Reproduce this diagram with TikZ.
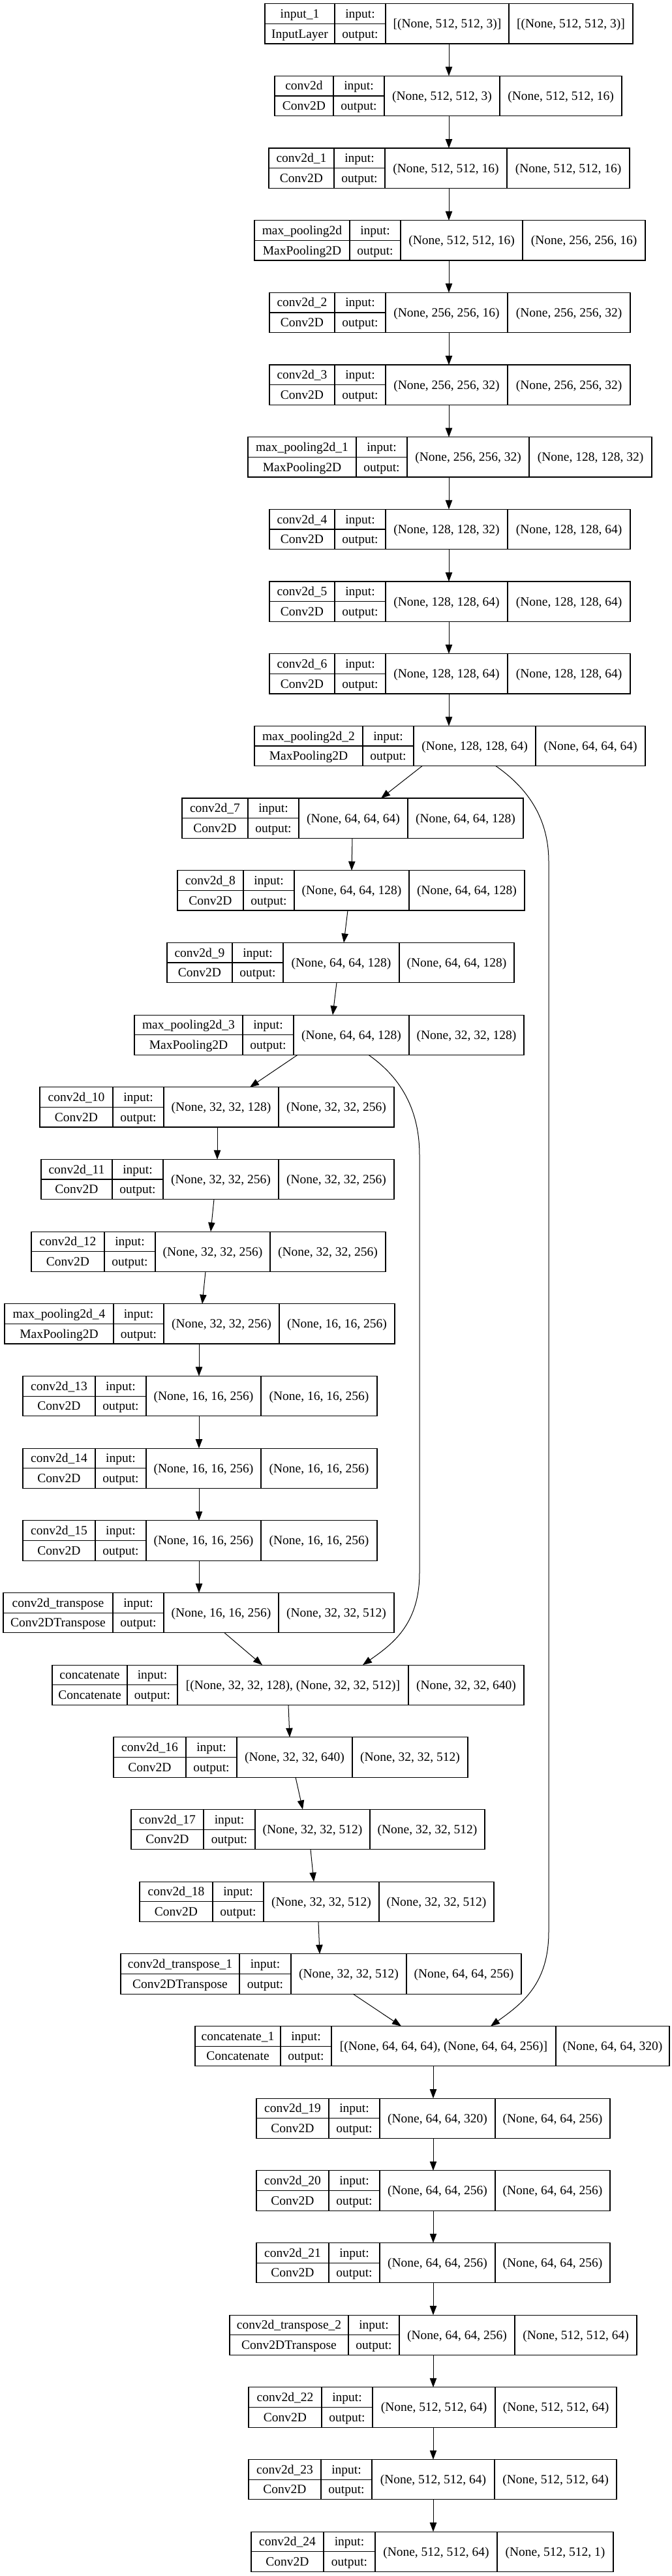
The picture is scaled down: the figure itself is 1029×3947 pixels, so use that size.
\documentclass[tikz,border=0pt]{standalone}
\usepackage{fontspec}
\setmainfont{Liberation Serif}
\usetikzlibrary{arrows.meta,fit}
\tikzset{
  boxn/.style={draw=black, line width=0.6pt, inner sep=0pt, outer sep=0pt},
  cellline/.style={draw=black, line width=0.6pt},
  txt/.style={anchor=base, inner sep=0pt, font=\fontsize{9.75pt}{11pt}\selectfont},
  arr/.style={draw=black, line width=0.5pt, -{Triangle[length=7pt,width=5.2pt]}},
}
\def\lyrxy#1/#2/#3/#4/#5\relax{\def\lyL{#1}\def\lyA{#2}\def\lyB{#3}\def\lyC{#4}\def\lyR{#5}}
\newcommand\lyr[7]{%
  \lyrxy#3\relax
  \pgfmathsetmacro\lyT{5.7+110.67*#2}%
  \pgfmathsetmacro\lyBt{\lyT+61.3}%
  \pgfmathsetmacro\lyM{\lyT+30.65}%
  \pgfmathsetmacro\lyU{\lyT+21.6}%
  \pgfmathsetmacro\lyD{\lyT+52.3}%
  \pgfmathsetmacro\lyCc{\lyT+37.1}%
  \node[boxn, fit={(\lyL,\lyT) (\lyR,\lyBt)}] (#1) {};
  \draw[cellline] (\lyA,\lyT) -- (\lyA,\lyBt) (\lyB,\lyT) -- (\lyB,\lyBt) (\lyC,\lyT) -- (\lyC,\lyBt) (\lyL,\lyM) -- (\lyB,\lyM);
  \node[txt] (#1-n) at ({(\lyL+\lyA)/2},\lyU) {#4};
  \node[txt] (#1-t) at ({(\lyL+\lyA)/2},\lyD) {#5};
  \node[txt] (#1-i) at ({(\lyA+\lyB)/2},\lyU) {input:};
  \node[txt] (#1-o) at ({(\lyA+\lyB)/2},\lyD) {output:};
  \node[txt] (#1-s) at ({(\lyB+\lyC)/2},\lyCc) {#6};
  \node[txt] (#1-r) at ({(\lyC+\lyR)/2},\lyCc) {#7};
}
\newcommand\edg[4]{\draw[arr] (#1.south-|#3,0) -- (#2.north-|#4,0);}
\begin{document}
\begin{tikzpicture}[x=0.5pt,y=-0.5pt]
\fill[white] (0,0) rectangle (1029,3947);
\useasboundingbox (0,0) rectangle (1029,3947);
\lyr{n0}{0}{406/513/591/780/970}{input\_1}{InputLayer}{[(None, 512, 512, 3)]}{[(None, 512, 512, 3)]}
\lyr{n1}{1}{421/511/589/766/953}{conv2d}{Conv2D}{(None, 512, 512, 3)}{(None, 512, 512, 16)}
\lyr{n2}{2}{412/512/590/777/965}{conv2d\_1}{Conv2D}{(None, 512, 512, 16)}{(None, 512, 512, 16)}
\lyr{n3}{3}{390/536/614/801/989}{max\_pooling2d}{MaxPooling2D}{(None, 512, 512, 16)}{(None, 256, 256, 16)}
\lyr{n4}{4}{413/513/591/778/966}{conv2d\_2}{Conv2D}{(None, 256, 256, 16)}{(None, 256, 256, 32)}
\lyr{n5}{5}{413/513/591/778/966}{conv2d\_3}{Conv2D}{(None, 256, 256, 32)}{(None, 256, 256, 32)}
\lyr{n6}{6}{380/546/624/811/999}{max\_pooling2d\_1}{MaxPooling2D}{(None, 256, 256, 32)}{(None, 128, 128, 32)}
\lyr{n7}{7}{413/513/591/778/966}{conv2d\_4}{Conv2D}{(None, 128, 128, 32)}{(None, 128, 128, 64)}
\lyr{n8}{8}{413/513/591/778/966}{conv2d\_5}{Conv2D}{(None, 128, 128, 64)}{(None, 128, 128, 64)}
\lyr{n9}{9}{413/513/591/778/966}{conv2d\_6}{Conv2D}{(None, 128, 128, 64)}{(None, 128, 128, 64)}
\lyr{n10}{10}{390/556/634/821/989}{max\_pooling2d\_2}{MaxPooling2D}{(None, 128, 128, 64)}{(None, 64, 64, 64)}
\lyr{n11}{11}{279/380/458/625/802}{conv2d\_7}{Conv2D}{(None, 64, 64, 64)}{(None, 64, 64, 128)}
\lyr{n12}{12}{272/373/451/627/804}{conv2d\_8}{Conv2D}{(None, 64, 64, 128)}{(None, 64, 64, 128)}
\lyr{n13}{13}{256/356/434/612/788}{conv2d\_9}{Conv2D}{(None, 64, 64, 128)}{(None, 64, 64, 128)}
\lyr{n14}{14}{206/372/450/627/803}{max\_pooling2d\_3}{MaxPooling2D}{(None, 64, 64, 128)}{(None, 32, 32, 128)}
\lyr{n15}{15}{61/173/251/427/604}{conv2d\_10}{Conv2D}{(None, 32, 32, 128)}{(None, 32, 32, 256)}
\lyr{n16}{16}{63/172/250/427/604}{conv2d\_11}{Conv2D}{(None, 32, 32, 256)}{(None, 32, 32, 256)}
\lyr{n17}{17}{48/160/238/414/591}{conv2d\_12}{Conv2D}{(None, 32, 32, 256)}{(None, 32, 32, 256)}
\lyr{n18}{18}{7/174/251/428/605}{max\_pooling2d\_4}{MaxPooling2D}{(None, 32, 32, 256)}{(None, 16, 16, 256)}
\lyr{n19}{19}{35/146/224/400/578}{conv2d\_13}{Conv2D}{(None, 16, 16, 256)}{(None, 16, 16, 256)}
\lyr{n20}{20}{35/146/224/400/578}{conv2d\_14}{Conv2D}{(None, 16, 16, 256)}{(None, 16, 16, 256)}
\lyr{n21}{21}{35/146/224/400/578}{conv2d\_15}{Conv2D}{(None, 16, 16, 256)}{(None, 16, 16, 256)}
\lyr{n22}{22}{5/173/251/427/604}{conv2d\_transpose}{Conv2DTranspose}{(None, 16, 16, 256)}{(None, 32, 32, 512)}
\lyr{n23}{23}{80/195/272/626/803}{concatenate}{Concatenate}{[(None, 32, 32, 128), (None, 32, 32, 512)]}{(None, 32, 32, 640)}
\lyr{n24}{24}{174/285/363/540/717}{conv2d\_16}{Conv2D}{(None, 32, 32, 640)}{(None, 32, 32, 512)}
\lyr{n25}{25}{201/312/391/567/743}{conv2d\_17}{Conv2D}{(None, 32, 32, 512)}{(None, 32, 32, 512)}
\lyr{n26}{26}{214/326/404/581/757}{conv2d\_18}{Conv2D}{(None, 32, 32, 512)}{(None, 32, 32, 512)}
\lyr{n27}{27}{185/367/446/623/799}{conv2d\_transpose\_1}{Conv2DTranspose}{(None, 32, 32, 512)}{(None, 64, 64, 256)}
\lyr{n28}{28}{299/430/508/852/1026}{concatenate\_1}{Concatenate}{[(None, 64, 64, 64), (None, 64, 64, 256)]}{(None, 64, 64, 320)}
\lyr{n29}{29}{393/504/582/759/935}{conv2d\_19}{Conv2D}{(None, 64, 64, 320)}{(None, 64, 64, 256)}
\lyr{n30}{30}{393/504/582/759/935}{conv2d\_20}{Conv2D}{(None, 64, 64, 256)}{(None, 64, 64, 256)}
\lyr{n31}{31}{393/504/582/759/935}{conv2d\_21}{Conv2D}{(None, 64, 64, 256)}{(None, 64, 64, 256)}
\lyr{n32}{32}{352/534/612/789/976}{conv2d\_transpose\_2}{Conv2DTranspose}{(None, 64, 64, 256)}{(None, 512, 512, 64)}
\lyr{n33}{33}{381/493/571/759/945}{conv2d\_22}{Conv2D}{(None, 512, 512, 64)}{(None, 512, 512, 64)}
\lyr{n34}{34}{381/492/570/758/945}{conv2d\_23}{Conv2D}{(None, 512, 512, 64)}{(None, 512, 512, 64)}
\lyr{n35}{35}{385/496/575/762/940}{conv2d\_24}{Conv2D}{(None, 512, 512, 64)}{(None, 512, 512, 1)}
% trunk
\edg{n0}{n1}{688}{688}
\edg{n1}{n2}{688}{688}
\edg{n2}{n3}{688}{688}
\edg{n3}{n4}{688}{688}
\edg{n4}{n5}{688}{688}
\edg{n5}{n6}{688}{688}
\edg{n6}{n7}{688}{688}
\edg{n7}{n8}{688}{688}
\edg{n8}{n9}{688}{688}
\edg{n9}{n10}{688}{688}
\edg{n10}{n11}{647}{584}
\edg{n11}{n12}{540}{539}
\edg{n12}{n13}{533}{527}
\edg{n13}{n14}{516}{510}
\edg{n14}{n15}{456}{383}
\edg{n15}{n16}{333}{333}
\edg{n16}{n17}{328}{323}
\edg{n17}{n18}{315}{310}
\edg{n18}{n19}{305}{305}
\edg{n19}{n20}{305}{305}
\edg{n20}{n21}{305}{305}
\edg{n21}{n22}{305}{305}
\edg{n22}{n23}{344}{402}
\edg{n23}{n24}{442}{444}
\edg{n24}{n25}{453}{464}
\edg{n25}{n26}{476}{481}
\edg{n26}{n27}{488}{490}
\edg{n27}{n28}{541}{615}
\edg{n28}{n29}{664}{664}
\edg{n29}{n30}{664}{664}
\edg{n30}{n31}{664}{664}
\edg{n31}{n32}{664}{664}
\edg{n32}{n33}{664}{664}
\edg{n33}{n34}{664}{664}
\edg{n34}{n35}{664}{664}
% skip connections
\draw[arr] (n10.south-|760,0) .. controls (805,1205) and (841,1250) .. (841,1320)
  -- (841,2960) .. controls (841,3040) and (800,3070) .. (n28.north-|752,0);
\draw[arr] (n14.south-|565,0) .. controls (610,1648) and (643,1695) .. (643,1770)
  -- (643,2410) .. controls (643,2490) and (600,2520) .. (n23.north-|556,0);
\end{tikzpicture}
\end{document}
